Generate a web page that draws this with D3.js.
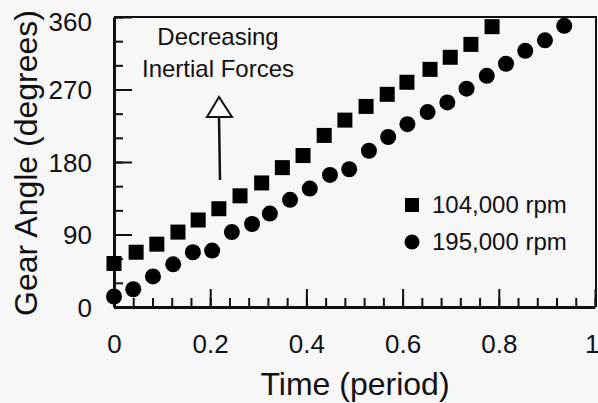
<!DOCTYPE html>
<html>
<head>
<meta charset="utf-8">
<script src="https://cdn.jsdelivr.net/npm/d3@7"></script>
<style>
  html, body { margin: 0; padding: 0; background: #f7f7f7; }
  svg { display: block; font-family: "Liberation Sans", Arial, Helvetica, sans-serif; }
</style>
</head>
<body>
<div id="chart"></div>
<script>
// 104,000 rpm (squares)
const timeSlow = [0, 0.046, 0.089, 0.133, 0.175, 0.218, 0.262, 0.307, 0.350, 0.393,
  0.437, 0.480, 0.524, 0.568, 0.609, 0.657, 0.699, 0.742, 0.786];
const angleSlow = [54, 68, 78, 93, 108, 122, 138, 154, 173, 188,
  213, 232, 249, 264, 279, 295, 310, 326, 348];

// 195,000 rpm (circles)
const timeFast = [0, 0.040, 0.081, 0.123, 0.164, 0.204, 0.245, 0.287, 0.324, 0.366,
  0.407, 0.449, 0.489, 0.530, 0.570, 0.610, 0.652, 0.693, 0.733, 0.775,
  0.815, 0.855, 0.896, 0.936];
const angleFast = [13, 22, 38, 53, 68, 70, 93, 103, 116, 133,
  147, 164, 171, 194, 211, 227, 242, 254, 271, 287,
  302, 318, 331, 349];

const xMajor = [0, 0.2, 0.4, 0.6, 0.8, 1];
const xMinor = d3.range(0, 1.001, 0.04);
const yMajor = [0, 90, 180, 270, 360];
const yMinor = [0, 30, 60, 90, 120, 150, 180, 210, 240, 270, 300, 330, 360];

const seriesNames = ["104,000 rpm", "195,000 rpm"];

const width = 598, height = 403;
const margin = {left: 114, right: 3, top: 17, bottom: 96};

const svg = d3.select("#chart").append("svg")
  .attr("width", width)
  .attr("height", height);

const x = d3.scaleLinear().domain([0, 1]).range([margin.left, width - margin.right]);
const y = d3.scaleLinear().domain([0, 360]).range([height - margin.bottom, margin.top]);

// frame (top and right)
svg.append("path")
  .attr("d", `M${x(0)},${y(360)}H${x(1) + 1}V${y(0)}`)
  .attr("fill", "none")
  .attr("stroke", "#111")
  .attr("stroke-width", 2);

// x axis: minor ticks, then major with labels
svg.append("g")
  .attr("transform", `translate(0,${y(0)})`)
  .call(d3.axisBottom(x).tickValues(xMinor).tickSize(-9).tickFormat(""))
  .call(g => g.select(".domain").remove())
  .call(g => g.selectAll("line").attr("stroke", "#111").attr("stroke-width", 2));

const xAxis = svg.append("g")
  .attr("transform", `translate(0,${y(0)})`)
  .call(d3.axisBottom(x).tickValues(xMajor).tickSize(-18).tickSizeOuter(0)
    .tickFormat(d => d === 0 || d === 1 ? d3.format("d")(d) : d3.format(".1f")(d)));
xAxis.select(".domain").attr("stroke", "#111").attr("stroke-width", 3);
xAxis.selectAll("line").attr("stroke", "#111").attr("stroke-width", 2);
xAxis.selectAll("text")
  .attr("y", 46).attr("dy", 0)
  .attr("fill", "#111")
  .style("font-size", "26px")
  .style("font-family", "'Liberation Sans', Arial, sans-serif");
// last label sits against the right edge
xAxis.selectAll(".tick").filter(d => d === 1).select("text")
  .attr("text-anchor", "end").attr("x", 4);

// y axis
svg.append("g")
  .attr("transform", `translate(${x(0)},0)`)
  .call(d3.axisLeft(y).tickValues(yMinor).tickSize(-9).tickFormat(""))
  .call(g => g.select(".domain").remove())
  .call(g => g.selectAll("line").attr("stroke", "#111").attr("stroke-width", 2));

const yAxis = svg.append("g")
  .attr("transform", `translate(${x(0)},0)`)
  .call(d3.axisLeft(y).tickValues(yMajor).tickSize(-18).tickSizeOuter(0));
yAxis.select(".domain").attr("stroke", "#111").attr("stroke-width", 3);
yAxis.selectAll("line").attr("stroke", "#111").attr("stroke-width", 2);
yAxis.selectAll("text")
  .attr("x", -22).attr("dy", "0.36em")
  .attr("fill", "#111")
  .style("font-size", "26px")
  .style("font-family", "'Liberation Sans', Arial, sans-serif");
yAxis.selectAll(".tick").filter(d => d === 360).select("text").attr("dy", "0.5em");

// axis titles
svg.append("text")
  .attr("x", 355).attr("y", 395)
  .attr("text-anchor", "middle")
  .attr("fill", "#111")
  .style("font-size", "32px")
  .text("Time (period)");

svg.append("text")
  .attr("transform", "translate(37,163) rotate(-90)")
  .attr("text-anchor", "middle")
  .attr("fill", "#111")
  .style("font-size", "32px")
  .text("Gear Angle (degrees)");

// data marks
const sq = 15;
svg.append("g").selectAll("rect")
  .data(d3.zip(timeSlow, angleSlow))
  .join("rect")
  .attr("x", d => x(d[0]) - sq / 2)
  .attr("y", d => y(d[1]) - sq / 2)
  .attr("width", sq)
  .attr("height", sq)
  .attr("fill", "#000");

svg.append("g").selectAll("circle")
  .data(d3.zip(timeFast, angleFast))
  .join("circle")
  .attr("cx", d => x(d[0]))
  .attr("cy", d => y(d[1]))
  .attr("r", 8)
  .attr("fill", "#000");

// annotation
const note = svg.append("text")
  .attr("text-anchor", "middle")
  .attr("fill", "#111")
  .style("font-size", "24px");
note.append("tspan").attr("x", 218).attr("y", 45).text("Decreasing");
note.append("tspan").attr("x", 218).attr("y", 77).text("Inertial Forces");

svg.append("line")
  .attr("x1", 220).attr("y1", 180)
  .attr("x2", 219).attr("y2", 117)
  .attr("stroke", "#111").attr("stroke-width", 2.5);
svg.append("path")
  .attr("d", "M219,97L207,117H232Z")
  .attr("fill", "#fff")
  .attr("stroke", "#111")
  .attr("stroke-width", 2);

// legend
const leg = svg.append("g");
leg.append("rect")
  .attr("x", 405).attr("y", 198).attr("width", 14).attr("height", 14)
  .attr("fill", "#000");
leg.append("circle")
  .attr("cx", 412).attr("cy", 242).attr("r", 7.5)
  .attr("fill", "#000");
leg.selectAll("text")
  .data(seriesNames)
  .join("text")
  .attr("x", 432)
  .attr("y", (d, i) => 213 + i * 37)
  .attr("fill", "#111")
  .style("font-size", "24px")
  .text(d => d);
</script>
</body>
</html>
